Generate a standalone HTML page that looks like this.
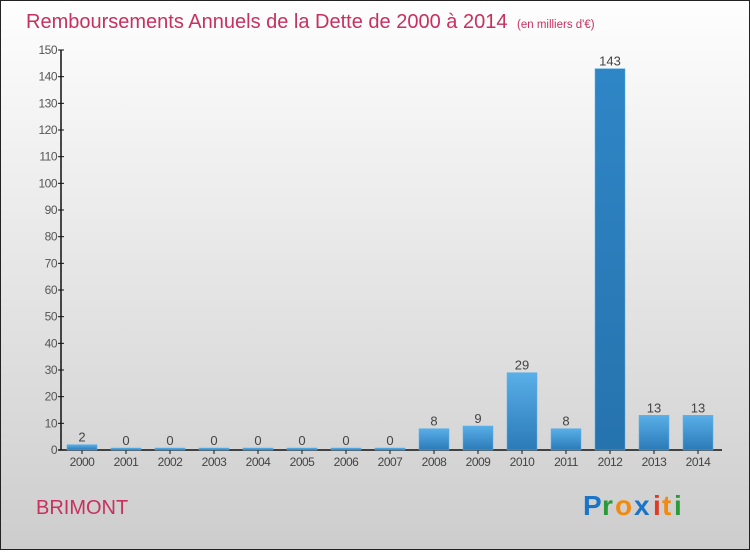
<!DOCTYPE html>
<html><head><meta charset="utf-8"><style>
body{margin:0;width:750px;height:550px;overflow:hidden;font-family:"Liberation Sans",sans-serif}
</style></head><body>
<svg width="750" height="550" xmlns="http://www.w3.org/2000/svg">
<defs>
<linearGradient id="bg" x1="0" y1="0" x2="0" y2="1"><stop offset="0" stop-color="#fefefe"/><stop offset="1" stop-color="#cdcdcd"/></linearGradient>
<linearGradient id="bar" x1="0" y1="0" x2="0" y2="1"><stop offset="0" stop-color="#5aafe8"/><stop offset="1" stop-color="#2a7ab8"/></linearGradient>
<linearGradient id="barhi" x1="0" y1="0" x2="0" y2="1"><stop offset="0" stop-color="#2f86c6"/><stop offset="1" stop-color="#2673ae"/></linearGradient>
</defs>
<rect x="0.5" y="0.5" width="749" height="549" fill="url(#bg)" stroke="#222"/>
<text x="26" y="28" font-size="20" fill="#c8305f">Remboursements Annuels de la Dette de 2000 à 2014 <tspan font-size="11.5" dx="4">(en milliers d'€)</tspan></text>
<g id="axes"></g>
<g id="bars"></g>
<text x="36" y="514" font-size="20" fill="#c8305f">BRIMONT</text>
<g font-size="28" font-weight="bold">
<text x="583" y="515" fill="#1a74c8">P</text><text x="602" y="515" fill="#2a9a3a">r</text><text x="615" y="515" fill="#f08a10">o</text><text x="634" y="515" fill="#1a74c8">x</text><text x="653" y="515" fill="#e03a20">i</text><text x="662" y="515" fill="#f08a10">t</text><text x="674" y="515" fill="#2a9a3a">i</text>
</g>
</svg>
<script>
const years=['2000','2001','2002','2003','2004','2005','2006','2007','2008','2009','2010','2011','2012','2013','2014'];
const values=[2,0,0,0,0,0,0,0,8,9,29,8,143,13,13];
const yTicks=[0,10,20,30,40,50,60,70,80,90,100,110,120,130,140,150];
const NS='http://www.w3.org/2000/svg';
const y0=450,yTop=50,vmax=150,x0=82,step=44,bw=30;
const Y=v=>y0-(v/vmax)*(y0-yTop);
const X=i=>x0+i*step;
function mk(t,a,p){const e=document.createElementNS(NS,t);for(const k in a)e.setAttribute(k,a[k]);p.appendChild(e);return e;}
const ax=document.getElementById('axes'),bg=document.getElementById('bars');
let l=mk('line',{x1:61,y1:yTop,x2:61,y2:y0,stroke:'#111','stroke-width':1.5},ax);


l=mk('line',{x1:58,y1:y0,x2:722,y2:y0,stroke:'#111','stroke-width':1.5},ax);


yTicks.forEach(v=>{
 mk('line',{x1:58,y1:Y(v),x2:64,y2:Y(v),stroke:'#111'},ax);
 const t=mk('text',{x:57,y:Y(v)+4,'text-anchor':'end','font-size':12,fill:'#555','letter-spacing':'-0.5'},ax);t.textContent=v;
 
 
});
years.forEach((yr,i)=>{
 const v=values[i],cx=X(i),top=Math.min(Y(v),y0-2);
 const r=mk('rect',{x:cx-bw/2,y:top,width:bw,height:y0-top,fill:v===Math.max(...values)?'url(#barhi)':'url(#bar)',stroke:'#5aafe8','stroke-width':0.5},bg);
 
 
 mk('line',{x1:cx,y1:y0,x2:cx,y2:y0+4,stroke:'#111'},ax);
 const lt=mk('text',{x:cx,y:466,'text-anchor':'middle','font-size':12,fill:'#444','letter-spacing':'-0.5'},ax);lt.textContent=yr;
 
 
 const vt=mk('text',{x:cx,y:top-3,'text-anchor':'middle','font-size':13,fill:'#444'},bg);vt.textContent=v;
 
 
});
</script>
</body></html>
